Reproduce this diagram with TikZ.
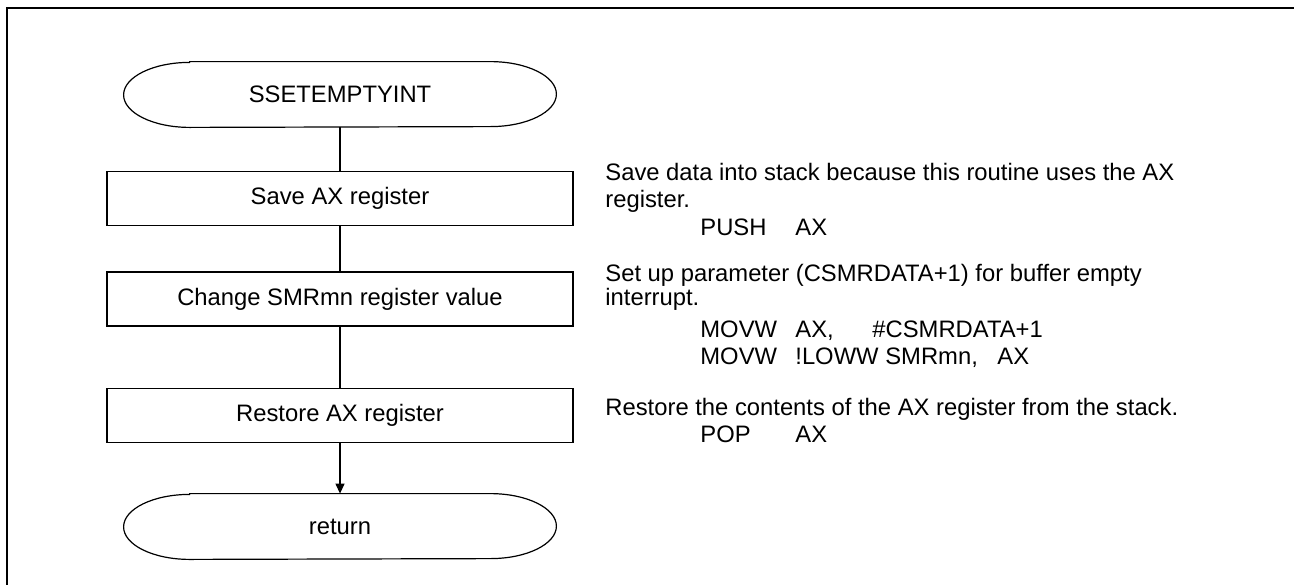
\documentclass[tikz,border=0pt]{standalone}
\usepackage{fontspec}
\setmainfont{Liberation Sans}
\usetikzlibrary{arrows.meta}

% terminal outline round a named node
\newcommand\termpath[1]{%
  \draw[line width=0.6pt] ([xshift=33pt]#1.north west) -- ([xshift=-33pt]#1.north east)
    arc[start angle=90,end angle=-90,x radius=33pt,y radius=16.25pt]
    -- ([xshift=33pt]#1.south west)
    arc[start angle=270,end angle=90,x radius=33pt,y radius=16.25pt] -- cycle;}
\newcommand\codecol[2]{\makebox[#1][l]{#2}}

\tikzset{
  txt/.style={font=\fontsize{11.9}{13}\selectfont},
  procbox/.style={txt, draw, line width=0.6pt, minimum width=233pt, minimum height=27pt, inner sep=0pt},
  termnode/.style={txt, minimum width=216pt, minimum height=32.5pt, inner sep=0pt},
  note/.style={txt, anchor=base west, inner sep=0pt},
}

\begin{document}
\begin{tikzpicture}[x=0.5pt,y=-0.5pt]
	\useasboundingbox (0,0) rectangle (1294,584);
	\draw[line width=1pt] (7,600) -- (7,8) -- (1310,8);

	% flow
	\node[termnode] (start) at (340,94.5) {SSETEMPTYINT};
	\termpath{start}
	\node[procbox] (savereg) at (340,198.5) {Save AX register};
	\node[procbox] (chgsmr) at (340,299) {Change SMRmn register value};
	\node[procbox] (rstreg) at (340,415.5) {Restore AX register};
	\node[termnode] (ret) at (340,526.5) {return};
	\termpath{ret}

	\draw[line width=0.6pt] (start.south) -- (savereg.north);
	\draw[line width=0.6pt] (savereg.south) -- (chgsmr.north);
	\draw[line width=0.6pt] (chgsmr.south) -- (rstreg.north);
	\draw[line width=0.6pt, -{Triangle[length=5pt,width=4.5pt]}] (rstreg.south) -- (ret.north);

	% notes
	\node[note] (saveNoteA) at (605,180) {Save data into stack because this routine uses the AX};
	\node[note] (saveNoteB) at (605,207) {register.};
	\node[note] (saveCode) at (700,235) {\codecol{47.5pt}{PUSH}AX};

	\node[note] (smrNoteA) at (605,281) {Set up parameter (CSMRDATA+1) for buffer empty};
	\node[note] (smrNoteB) at (605,305) {interrupt.};
	\node[note] (smrCodeA) at (700,337) {\codecol{47.5pt}{MOVW}\codecol{38.5pt}{AX,}\#CSMRDATA+1};
	\node[note] (smrCodeB) at (700,364) {\codecol{47.5pt}{MOVW}\codecol{101pt}{!LOWW SMRmn,}AX};

	\node[note] (rstNote) at (605,415) {Restore the contents of the AX register from the stack.};
	\node[note] (rstCode) at (700,442) {\codecol{47.5pt}{POP}AX};
\end{tikzpicture}
\end{document}
